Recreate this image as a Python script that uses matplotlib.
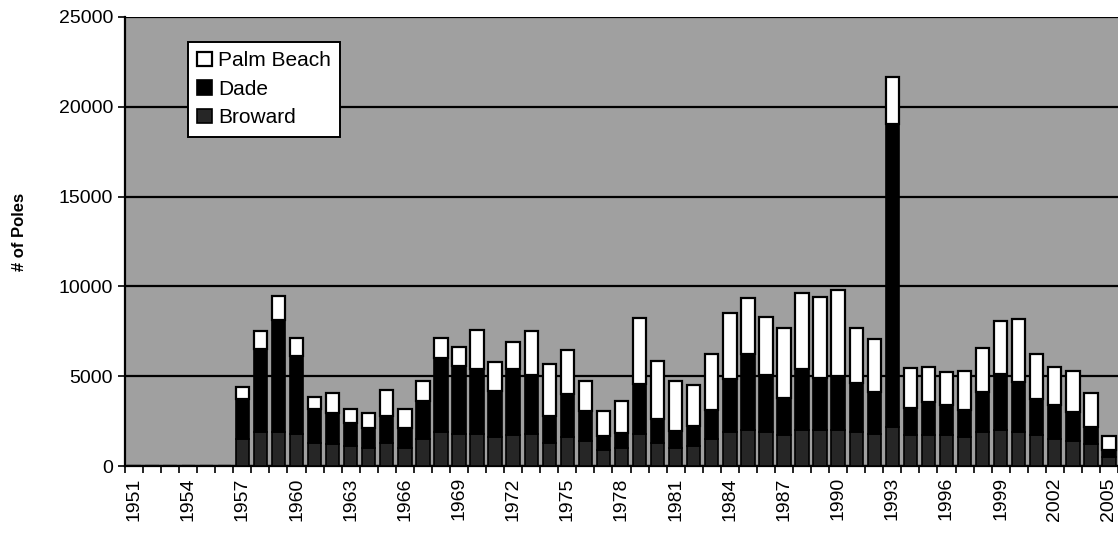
import matplotlib

matplotlib.use("Agg")
import matplotlib.pyplot as plt
import numpy as np

plt.rcParams["font.family"] = ["Liberation Sans", "DejaVu Sans"]

years = list(range(1951, 2006))

# values per year, 1951-1956 have no bars
broward = [0, 0, 0, 0, 0, 0,
           1500, 1900, 1900, 1800, 1300, 1200, 1100, 1000, 1300, 1000,
           1500, 1900, 1800, 1800, 1600, 1700, 1800, 1300, 1600, 1400,
           900, 1000, 1800, 1300, 1000, 1100, 1500, 1900, 2000, 1900,
           1700, 2000, 2000, 2000, 1900, 1800, 2200, 1700, 1700, 1700,
           1600, 1900, 2000, 1900, 1700, 1500, 1400, 1200, 500]
dade = [0, 0, 0, 0, 0, 0,
        2250, 4600, 6230, 4330, 1890, 1730, 1280, 1100, 1500, 1100,
        2140, 4100, 3770, 3580, 2580, 3680, 3270, 1500, 2390, 1680,
        790, 860, 2750, 1320, 970, 1150, 1620, 2930, 4240, 3170,
        2070, 3380, 2880, 3030, 2700, 2340, 16860, 1510, 1880, 1700,
        1520, 2240, 3120, 2760, 2030, 1900, 1590, 990, 390]
palm_beach = [0, 0, 0, 0, 0, 0,
              650, 1020, 1350, 980, 670, 1120, 790, 870, 1430, 1060,
              1110, 1150, 1070, 2190, 1630, 1520, 2470, 2860, 2470, 1650,
              1370, 1780, 3710, 3230, 2780, 2260, 3100, 3710, 3100, 3250,
              3930, 4250, 4550, 4770, 3070, 2910, 2580, 2230, 1910, 1820,
              2190, 2450, 2950, 3530, 2510, 2090, 2300, 1890, 780]

x = np.arange(len(years))
broward = np.array(broward)
dade = np.array(dade)
palm_beach = np.array(palm_beach)

fig = plt.figure(figsize=(11.18, 5.39), dpi=100)
ax = fig.add_axes([0.1118, 0.1354, 0.8882, 0.8331])
ax.set_facecolor("#a0a0a0")

w = 0.74
ax.bar(x, broward, w, color="#262626", edgecolor="black", linewidth=1.2,
       label="Broward", zorder=3)
ax.bar(x, dade, w, bottom=broward, color="black", edgecolor="black",
       linewidth=1.2, label="Dade", zorder=3)
ax.bar(x, palm_beach, w, bottom=broward + dade, color="white",
       edgecolor="black", linewidth=1.6, label="Palm Beach", zorder=3)

ax.set_ylim(0, 25000)
ax.set_xlim(-0.5, len(years) - 0.5)
ax.set_yticks(np.arange(0, 25001, 5000))
ax.yaxis.grid(True, color="black", linewidth=1.6, zorder=1)
ax.set_axisbelow(True)
ax.tick_params(axis="y", labelsize=14, length=5, width=1.2, direction="out")

# labels every 3 years, ticks at each category boundary
ax.set_xticks(x[::3])
ax.set_xticklabels([str(y) for y in years[::3]], rotation=90, fontsize=14)
ax.set_xticks(np.arange(-0.5, len(years), 1), minor=True)
ax.tick_params(axis="x", which="major", length=0, pad=8)
ax.tick_params(axis="x", which="minor", length=5, width=1.2, direction="out")

for s in ["top", "right"]:
    ax.spines[s].set_visible(False)
ax.spines["left"].set_linewidth(1.6)
ax.spines["bottom"].set_linewidth(1.6)

fig.text(0.017, 0.57, "# of Poles", rotation=90, fontsize=12,
         fontweight="bold", va="center", ha="center")

h, l = ax.get_legend_handles_labels()
leg = ax.legend(h[::-1], l[::-1], loc="upper left",
                bbox_to_anchor=(0.0634, 0.944), borderaxespad=0,
                fontsize=15, frameon=True, fancybox=False,
                handlelength=0.7, handleheight=0.7, handletextpad=0.3,
                borderpad=0.45, labelspacing=0.45)
leg.get_frame().set_edgecolor("black")
leg.get_frame().set_linewidth(1.4)
leg.get_frame().set_alpha(1)

fig.savefig("out.png", dpi=100)
